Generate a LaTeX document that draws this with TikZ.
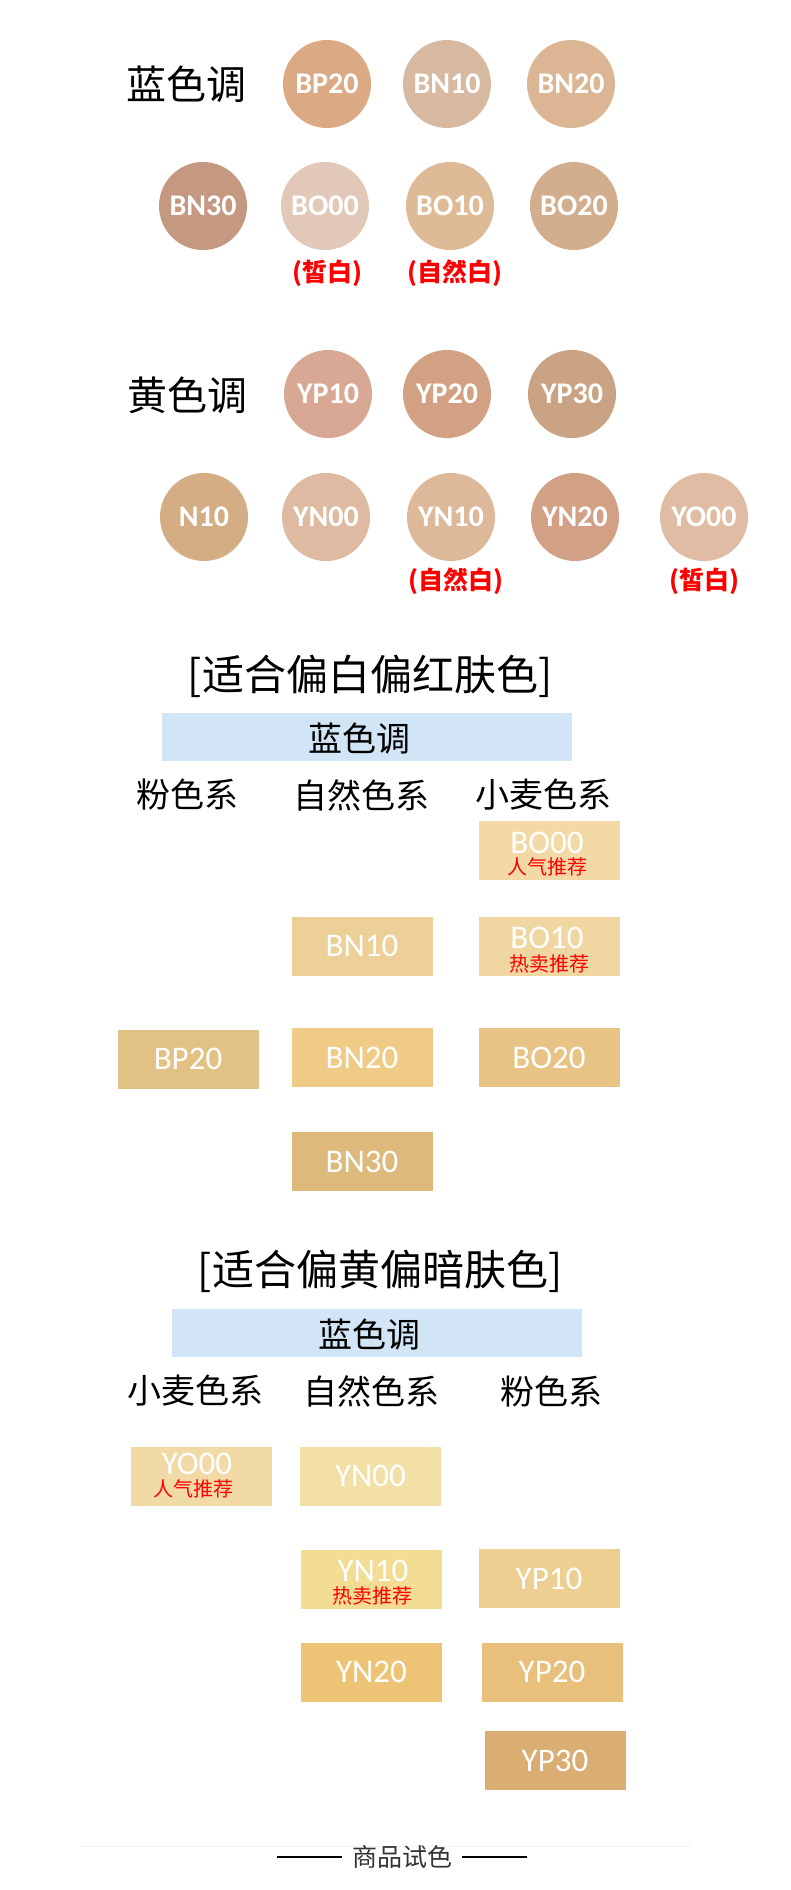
\documentclass[tikz,border=0pt]{standalone}
\usepackage{fontspec}
\setmainfont{Carlito}
\newfontfamily\cjk{Noto Sans CJK SC}
\usepackage{tikz}

\definecolor{bpdot}{HTML}{DBA984}
\definecolor{bntendot}{HTML}{D7B8A1}
\definecolor{bntwodot}{HTML}{DBB594}
\definecolor{bnthreedot}{HTML}{C59981}
\definecolor{boodot}{HTML}{E2C8B8}
\definecolor{botendot}{HTML}{DFBA97}
\definecolor{botwodot}{HTML}{D2AD8E}
\definecolor{yptendot}{HTML}{D8A894}
\definecolor{yptwodot}{HTML}{D2A184}
\definecolor{ypthreedot}{HTML}{C9A384}
\definecolor{ntendot}{HTML}{D4AD84}
\definecolor{ynoodot}{HTML}{DDBAA1}
\definecolor{yntendot}{HTML}{DDB999}
\definecolor{yntwodot}{HTML}{D2A084}
\definecolor{yoodot}{HTML}{DFBCA3}

\definecolor{booswatch}{HTML}{F3D9A6}
\definecolor{bntenswatch}{HTML}{EDD097}
\definecolor{botenswatch}{HTML}{F0D6A0}
\definecolor{bpswatch}{HTML}{E2C185}
\definecolor{bntwoswatch}{HTML}{F0CB86}
\definecolor{botwoswatch}{HTML}{E8C386}
\definecolor{bnthreeswatch}{HTML}{DDBA7C}
\definecolor{yooswatch}{HTML}{F2DAA6}
\definecolor{ynooswatch}{HTML}{F3E0A6}
\definecolor{yntenswatch}{HTML}{F3DC94}
\definecolor{yptenswatch}{HTML}{EDCF92}
\definecolor{yntwoswatch}{HTML}{EDC475}
\definecolor{yptwoswatch}{HTML}{E8BF7B}
\definecolor{ypthreeswatch}{HTML}{DAAD72}
\definecolor{barblue}{HTML}{D2E5F6}
\definecolor{footgrey}{HTML}{333333}
\definecolor{rulegrey}{HTML}{F2F2F2}

\begin{document}
\begin{tikzpicture}[x=1pt,y=-1pt,
  dot/.style={circle,minimum size=88pt,inner sep=0pt,text=white,font=\bfseries\fontsize{30}{30}\selectfont},
  swatch/.style={minimum width=141pt,minimum height=59pt,inner sep=0pt,text=white,font=\fontsize{33}{33}\selectfont},
  code/.style={inner sep=0pt,text=white,font=\fontsize{33}{33}\selectfont},
  tag/.style={inner sep=0pt,text=red,font=\cjk\fontsize{20}{20}\selectfont},
  note/.style={inner sep=0pt,text=red,font=\cjk\bfseries\fontsize{25}{25}\selectfont},
  tone/.style={inner sep=0pt,font=\cjk\fontsize{40}{40}\selectfont},
  heading/.style={inner sep=0pt,font=\cjk\fontsize{42}{42}\selectfont},
  series/.style={inner sep=0pt,font=\cjk\fontsize{34}{34}\selectfont},
  bar/.style={minimum width=410pt,minimum height=48pt,inner sep=0pt,fill=barblue}]
\useasboundingbox (0,0) rectangle (790,1890);

\node[tone] (blue) at (186,84) {蓝色调};
\node[dot,fill=bpdot] (bp20) at (327,84) {BP20};
\node[dot,fill=bntendot] (bn10) at (447,84) {BN10};
\node[dot,fill=bntwodot] (bn20) at (571,84) {BN20};
\node[dot,fill=bnthreedot] (bn30) at (203,206) {BN30};
\node[dot,fill=boodot] (bo00) at (325,206) {BO00};
\node[dot,fill=botendot] (bo10) at (450,206) {BO10};
\node[dot,fill=botwodot] (bo20) at (574,206) {BO20};
\node[note] (bo00n) at (327,273) {(皙白)};
\node[note] (bo10n) at (455,273) {(自然白)};

\node[tone] (yellow) at (187,395) {黄色调};
\node[dot,fill=yptendot] (yp10) at (328,394) {YP10};
\node[dot,fill=yptwodot] (yp20) at (447,394) {YP20};
\node[dot,fill=ypthreedot] (yp30) at (572,394) {YP30};
\node[dot,fill=ntendot] (n10) at (204,517) {N10};
\node[dot,fill=ynoodot] (yn00) at (326,517) {YN00};
\node[dot,fill=yntendot] (yn10) at (451,517) {YN10};
\node[dot,fill=yntwodot] (yn20) at (575,517) {YN20};
\node[dot,fill=yoodot] (yo00) at (704,517) {YO00};
\node[note] (yn10n) at (456,581) {(自然白)};
\node[note] (yo00n) at (704,581) {(皙白)};

\node[heading] (fair) at (370,676) {[适合偏白偏红肤色]};
\node[bar] (fairbar) at (367,737) {};
\node[series] at (359,739) {蓝色调};
\node[series] (fairpink) at (187,795) {粉色系};
\node[series] (fairnat) at (361,795) {自然色系};
\node[series] (fairwheat) at (543,795) {小麦色系};

\node[swatch,fill=booswatch] (sbo00) at (549,850.5) {};
\node[code] at (547,843) {BO00};
\node[tag] at (547,867) {人气推荐};
\node[swatch,fill=bntenswatch] (sbn10) at (362,946) {BN10};
\node[swatch,fill=botenswatch] (sbo10) at (549,946) {};
\node[code] at (547,938) {BO10};
\node[tag] at (549,964) {热卖推荐};
\node[swatch,fill=bpswatch] (sbp20) at (188,1059) {BP20};
\node[swatch,fill=bntwoswatch] (sbn20) at (362,1057.5) {BN20};
\node[swatch,fill=botwoswatch] (sbo20) at (549,1057.5) {BO20};
\node[swatch,fill=bnthreeswatch] (sbn30) at (362,1161.5) {BN30};

\node[heading] (dark) at (380,1271) {[适合偏黄偏暗肤色]};
\node[bar] (darkbar) at (377,1332.5) {};
\node[series] at (369,1334) {蓝色调};
\node[series] (darkwheat) at (195,1391) {小麦色系};
\node[series] (darknat) at (371,1391) {自然色系};
\node[series] (darkpink) at (551,1391) {粉色系};

\node[swatch,fill=yooswatch] (syo00) at (201,1476) {};
\node[code] at (197,1464) {YO00};
\node[tag] at (193,1489) {人气推荐};
\node[swatch,fill=ynooswatch] (syn00) at (370.5,1476) {YN00};
\node[swatch,fill=yntenswatch] (syn10) at (371.5,1579.5) {};
\node[code] at (373,1571) {YN10};
\node[tag] at (372,1596) {热卖推荐};
\node[swatch,fill=yptenswatch] (syp10) at (549,1578.5) {YP10};
\node[swatch,fill=yntwoswatch] (syn20) at (371.5,1672) {YN20};
\node[swatch,fill=yptwoswatch] (syp20) at (552,1672) {YP20};
\node[swatch,fill=ypthreeswatch] (syp30) at (555,1760.5) {YP30};

\coordinate (ruleL) at (81,1846);
\coordinate (ruleR) at (691,1846);
\draw[rulegrey,line width=1pt] (ruleL) -- (ruleR);
\node[inner sep=0pt,text=footgrey,font=\cjk\fontsize{25}{25}\selectfont] (foot) at (402,1857) {商品试色};
\coordinate (dashLa) at (277,1857);
\coordinate (dashLb) at (342,1857);
\coordinate (dashRa) at (462,1857);
\coordinate (dashRb) at (527,1857);
\draw[line width=1.3pt] (dashLa) -- (dashLb);
\draw[line width=1.3pt] (dashRa) -- (dashRb);

\end{tikzpicture}
\end{document}
